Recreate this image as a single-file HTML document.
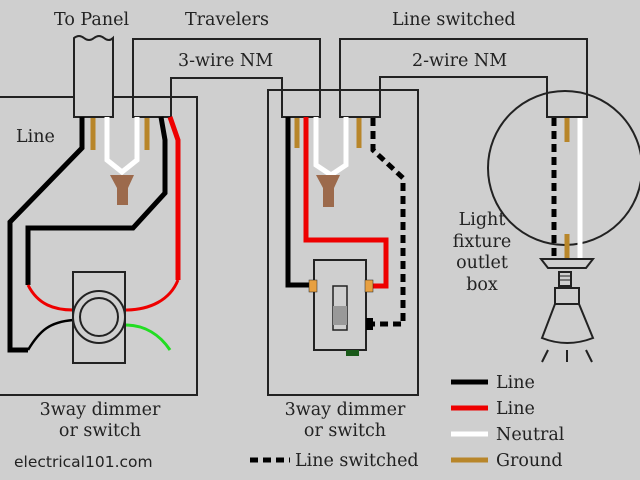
<!DOCTYPE html>
<html><head><style>html,body{margin:0;padding:0;background:#cfcfcf}svg{display:block}</style></head><body>
<svg width="640" height="480" viewBox="0 0 640 480" xmlns="http://www.w3.org/2000/svg" font-family="'DejaVu Serif',serif" font-size="17.5" fill="#222">
<rect width="640" height="480" fill="#cfcfcf"/>
<g fill="none" stroke="#222" stroke-width="2">
<polyline points="0,97 197,97 197,395 0,395"/>
<rect x="268" y="90" width="150" height="305"/>
<path d="M74,117 V38 q5,-4 10,0 q5,4 10,0 q5,-4 10,0 q5,4 9,0 V117 Z" fill="#cfcfcf"/>
<path d="M133,117 V39 H320 V117 H282 V78 H171 V117 Z" fill="none"/>
<line x1="133" y1="97" x2="171" y2="97"/>
<line x1="282" y1="90" x2="320" y2="90"/>
<path d="M340,117 V39 H587 V117 H547 V77 H380 V117 Z"/>
<line x1="340" y1="90" x2="380" y2="90"/>
<circle cx="565" cy="168" r="77"/>
</g>
<g fill="none" stroke-width="5">
<polyline points="82,117 82,148 10,222 10,350 28,350" stroke="#000"/>
<path d="M28,350 C40,330 50,322 73,320" stroke="#000" stroke-width="2.5"/>
<polyline points="161,117 165,140 165,193 133,228 28,228 28,285" stroke="#000"/>
<path d="M28,285 C38,305 55,310 73,310" stroke="#e00" stroke-width="3"/>
<polyline points="170,117 178,140 178,280" stroke="#e00"/>
<path d="M178,280 C170,300 150,310 125,310" stroke="#e00" stroke-width="3"/>
<path d="M125,325 C145,325 160,335 170,350" stroke="#2d2" stroke-width="3"/>
<polyline points="107,117 107,160 122,172 137,160 137,117" stroke="#fff"/>
<line x1="93" y1="118" x2="93" y2="150" stroke="#b8862a"/>
<line x1="147" y1="118" x2="147" y2="150" stroke="#b8862a"/>
</g>
<path d="M110,175 H134 L128,188 V205 H117 V188 Z" fill="#9c6a4c"/>
<g fill="none" stroke="#222" stroke-width="2">
<rect x="73" y="272" width="52" height="91"/>
<circle cx="99" cy="317" r="26"/>
<circle cx="99" cy="317" r="19"/>
</g>
<g fill="none" stroke-width="5">
<polyline points="288,117 288,285 312,285" stroke="#000"/>
<polyline points="306,117 306,240 386,240 386,286 370,286" stroke="#e00"/>
<polyline points="316,117 316,165 331,175 346,165 346,117" stroke="#fff"/>
<line x1="297" y1="118" x2="297" y2="148" stroke="#b8862a"/>
<line x1="359" y1="118" x2="359" y2="148" stroke="#b8862a"/>
<polyline points="373,118 373,150 403,178 403,324 370,324" stroke="#000" stroke-dasharray="8,5"/>
<line x1="554" y1="118" x2="554" y2="258" stroke="#000" stroke-dasharray="8,5"/>
<line x1="580" y1="118" x2="580" y2="258" stroke="#fff"/>
<line x1="567" y1="118" x2="567" y2="142" stroke="#b8862a"/>
<line x1="567" y1="234" x2="567" y2="258" stroke="#b8862a"/>
</g>
<path d="M316,175 H340 L334,188 V207 H323 V188 Z" fill="#9c6a4c"/>
<rect x="314" y="260" width="52" height="90" fill="#cfcfcf" stroke="#222" stroke-width="2"/>
<rect x="309" y="280" width="8" height="12" fill="#e8a040" stroke="#222" stroke-width="0.5"/>
<rect x="365" y="280" width="8" height="12" fill="#e8a040" stroke="#222" stroke-width="0.5"/>
<rect x="333" y="286" width="14" height="44" fill="#cfcfcf" stroke="#222" stroke-width="1.5"/>
<rect x="333" y="306" width="14" height="19" fill="#999"/>
<rect x="366" y="318" width="7" height="12" fill="#000"/>
<rect x="346" y="350" width="13" height="6" fill="#1a5a1a"/>
<g fill="#cfcfcf" stroke="#222" stroke-width="2">
<path d="M541,259 H593 L586,268 H548 Z"/>
<rect x="559" y="272" width="12" height="14"/>
<path d="M555,288 H579 V304 L593,338 Q567,348 542,338 L555,304 Z"/>
<line x1="555" y1="304" x2="579" y2="304"/>
<line x1="548" y1="350" x2="542" y2="362"/>
<line x1="567" y1="350" x2="567" y2="362"/>
<line x1="586" y1="350" x2="592" y2="362"/>
</g>
<g stroke="#222" stroke-width="1"><line x1="560" y1="276" x2="570" y2="276"/><line x1="560" y1="280" x2="570" y2="280"/></g>
<g stroke-width="5">
<line x1="451" y1="382" x2="488" y2="382" stroke="#000"/>
<line x1="451" y1="408" x2="488" y2="408" stroke="#e00"/>
<line x1="451" y1="434" x2="488" y2="434" stroke="#fff"/>
<line x1="451" y1="460" x2="488" y2="460" stroke="#b8862a"/>
<line x1="250" y1="460" x2="290" y2="460" stroke="#000" stroke-dasharray="8,5"/>
</g>
<text x="496" y="388">Line</text>
<text x="496" y="414">Line</text>
<text x="496" y="440">Neutral</text>
<text x="496" y="466">Ground</text>
<text x="295" y="466">Line switched</text>
<text x="54" y="25">To Panel</text>
<text x="185" y="25">Travelers</text>
<text x="392" y="25">Line switched</text>
<text x="178" y="66">3-wire NM</text>
<text x="412" y="66">2-wire NM</text>
<text x="16" y="142">Line</text>
<g text-anchor="middle">
<text x="482" y="225">Light</text>
<text x="482" y="247">fixture</text>
<text x="482" y="268">outlet</text>
<text x="482" y="290">box</text>
<text x="100" y="415">3way dimmer</text>
<text x="100" y="436">or switch</text>
<text x="345" y="415">3way dimmer</text>
<text x="345" y="436">or switch</text>
</g>
<text x="14" y="467" font-family="'DejaVu Sans',sans-serif" font-size="15.5">electrical101.com</text>
</svg>
</body></html>
